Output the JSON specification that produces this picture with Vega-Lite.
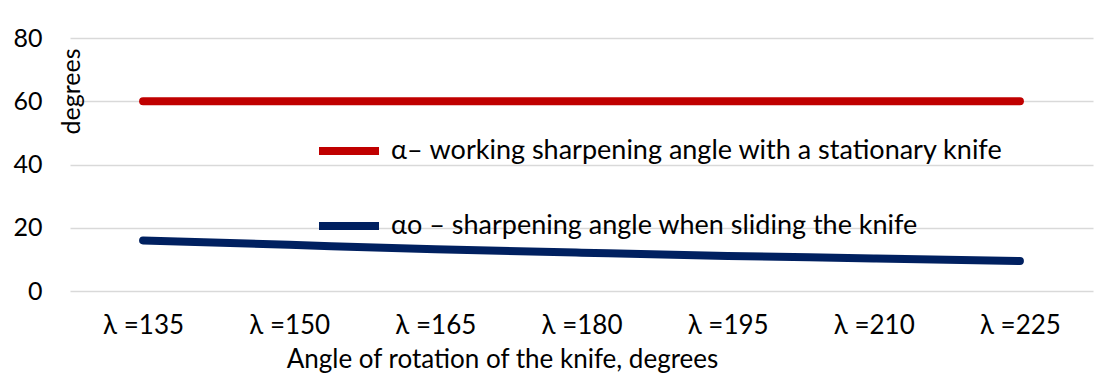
{
  "$schema": "https://vega.github.io/schema/vega-lite/v6.json",
  "width": 1023,
  "height": 253,
  "autosize": {"type": "none"},
  "padding": {"left": 70, "top": 38, "right": 18, "bottom": 96},
  "background": "#ffffff",
  "config": {
    "view": {"stroke": null},
    "font": "Lato",
    "axis": {"labelFont": "Lato", "titleFont": "Lato", "labelColor": "#000000", "titleColor": "#000000"}
  },
  "data": {
    "values": [
      {"lambda": "λ =135", "series": "α– working sharpening angle with a stationary knife", "angle": 60},
      {"lambda": "λ =150", "series": "α– working sharpening angle with a stationary knife", "angle": 60},
      {"lambda": "λ =165", "series": "α– working sharpening angle with a stationary knife", "angle": 60},
      {"lambda": "λ =180", "series": "α– working sharpening angle with a stationary knife", "angle": 60},
      {"lambda": "λ =195", "series": "α– working sharpening angle with a stationary knife", "angle": 60},
      {"lambda": "λ =210", "series": "α– working sharpening angle with a stationary knife", "angle": 60},
      {"lambda": "λ =225", "series": "α– working sharpening angle with a stationary knife", "angle": 60},
      {"lambda": "λ =135", "series": "αo – sharpening angle when sliding the knife", "angle": 16.0},
      {"lambda": "λ =150", "series": "αo – sharpening angle when sliding the knife", "angle": 14.6},
      {"lambda": "λ =165", "series": "αo – sharpening angle when sliding the knife", "angle": 13.2},
      {"lambda": "λ =180", "series": "αo – sharpening angle when sliding the knife", "angle": 12.1},
      {"lambda": "λ =195", "series": "αo – sharpening angle when sliding the knife", "angle": 11.1},
      {"lambda": "λ =210", "series": "αo – sharpening angle when sliding the knife", "angle": 10.3},
      {"lambda": "λ =225", "series": "αo – sharpening angle when sliding the knife", "angle": 9.5}
    ]
  },
  "mark": {"type": "line", "strokeWidth": 8, "strokeCap": "round", "strokeJoin": "round", "interpolate": "monotone"},
  "encoding": {
    "x": {
      "field": "lambda",
      "type": "nominal",
      "sort": null,
      "scale": {"paddingInner": 0, "paddingOuter": 0},
      "axis": {
        "title": "Angle of rotation of the knife, degrees",
        "titleFontSize": 26,
        "titleFontWeight": "normal",
        "titleX": 432,
        "titleY": 76,
        "titleAlign": "center",
        "titleBaseline": "alphabetic",
        "labelAngle": 0,
        "labelFontSize": 26,
        "labelPadding": 21,
        "domain": false,
        "ticks": false,
        "grid": false
      }
    },
    "y": {
      "field": "angle",
      "type": "quantitative",
      "scale": {"domain": [0, 80], "nice": false},
      "axis": {
        "values": [0, 20, 40, 60, 80],
        "title": "degrees",
        "titleFontSize": 25,
        "titleFontWeight": "normal",
        "titleAngle": -90,
        "titleAlign": "right",
        "titleBaseline": "middle",
        "titleX": 1,
        "titleY": 10,
        "labelFontSize": 25,
        "labelPadding": 28,
        "domain": false,
        "ticks": false,
        "grid": true,
        "gridColor": "#D9D9D9",
        "gridWidth": 1.5
      }
    },
    "color": {
      "field": "series",
      "type": "nominal",
      "scale": {
        "domain": ["α– working sharpening angle with a stationary knife", "αo – sharpening angle when sliding the knife"],
        "range": ["#C00000", "#002060"]
      },
      "legend": {
        "orient": "none",
        "legendX": 245,
        "legendY": 79,
        "title": null,
        "symbolType": "stroke",
        "symbolSize": 3600,
        "symbolStrokeWidth": 8,
        "labelFontSize": 27,
        "labelFont": "Lato",
        "labelColor": "#000000",
        "labelOffset": 8,
        "labelLimit": 900,
        "rowPadding": 25
      }
    }
  }
}
